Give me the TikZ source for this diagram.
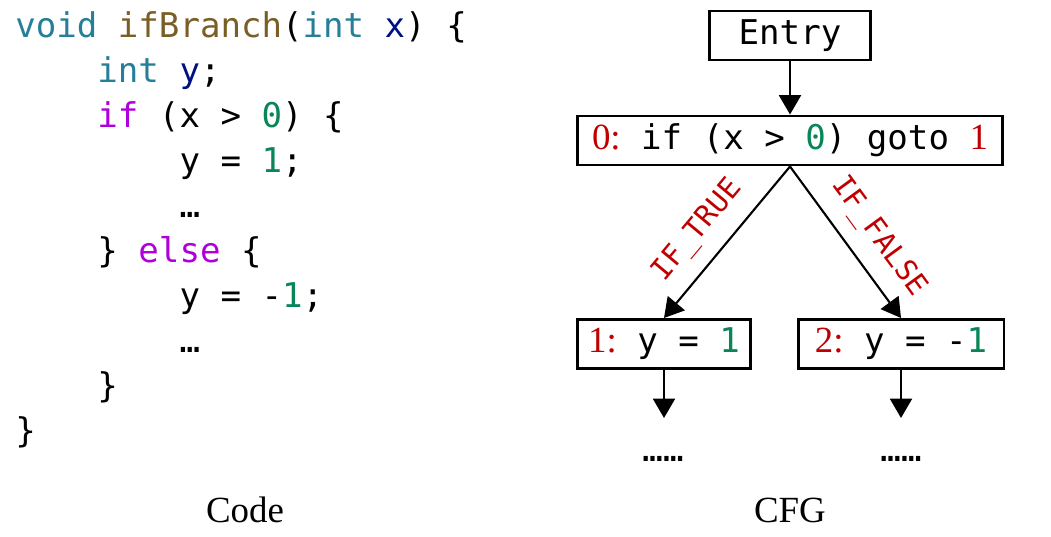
\documentclass[tikz,border=0pt]{standalone}
\usepackage{fontspec}
\setmainfont{Liberation Serif}
\setmonofont{DejaVu Sans Mono}
\usepackage{tikz}
\usetikzlibrary{arrows.meta,positioning}
\usepackage{xcolor}
\definecolor{ctype}{HTML}{267F99}
\definecolor{cfunc}{HTML}{795E26}
\definecolor{cvari}{HTML}{001080}
\definecolor{ckeyw}{HTML}{AF00DB}
\definecolor{cnumb}{HTML}{098658}
\definecolor{cred}{HTML}{C00000}
\newcommand{\codety}[1]{\textcolor{ctype}{#1}}
\newcommand{\codefn}[1]{\textcolor{cfunc}{#1}}
\newcommand{\codevar}[1]{\textcolor{cvari}{#1}}
\newcommand{\codekw}[1]{\textcolor{ckeyw}{#1}}
\newcommand{\codenum}[1]{\textcolor{cnumb}{#1}}
\newcommand{\stmtno}[1]{{\rmfamily\fontsize{21}{25}\selectfont\textcolor{cred}{#1}}}
\newcommand{\indt}{\hphantom{xxxx}}
\tikzset{
	code/.style={align=left,inner sep=0pt,font=\ttfamily\fontsize{19.4}{25.6}\selectfont},
	blk/.style={draw,line width=1.7pt,minimum height=0.98cm,inner xsep=0pt,font=\ttfamily\fontsize{19.4}{25.6}\selectfont},
	arr/.style={-{Triangle[length=11pt,width=12.5pt]},line width=1.2pt},
	lbl/.style={sloped,above=5pt,text=cred,font=\ttfamily\fontsize{16.5}{20}\selectfont},
	captxt/.style={anchor=base,font=\rmfamily\fontsize{21}{25}\selectfont}
}
\begin{document}
\begin{tikzpicture}[x=0.02cm,y=-0.02cm]
	\useasboundingbox (0,0) rectangle (1051,537);
	% source code
	\node[code,anchor=base west] (src) at (15,442) {\codety{void} \codefn{ifBranch}(\codety{int} \codevar{x}) \{\\
		\indt\codety{int} \codevar{y};\\
		\indt\codekw{if} (x > \codenum{0}) \{\\
		\indt\indt y = \codenum{1};\\
		\indt\indt …\\
		\indt\} \codekw{else} \{\\
		\indt\indt y = -\codenum{1};\\
		\indt\indt …\\
		\indt\}\\
		\}};
	% control flow graph
	\node[blk,minimum width=3.22cm] (en) at (790,35.5) {Entry};
	\node[blk,minimum width=8.5cm] (c0) at (790,140.5) {\stmtno{0:} if (x > \codenum{0}) goto \stmtno{1}};
	\node[blk,minimum width=3.46cm] (b1) at (664,344) {\stmtno{1:} y = \codenum{1}};
	\node[blk,minimum width=4.12cm] (b2) at (901,344) {\stmtno{2:} y = -\codenum{1}};
	\coordinate (e1) at (664,418);
	\coordinate (e2) at (901,418);
	\node[code,anchor=base] (d1) at (663,461) {……};
	\node[code,anchor=base] (d2) at (901,461) {……};
	\draw[arr] (en) -- (c0);
	\draw[arr] (c0.south) -- (b1.north) node[lbl,pos=0.55] {IF\_TRUE};
	\draw[arr] (c0.south) -- (b2.north) node[lbl,pos=0.58] {IF\_FALSE};
	\foreach \x/\y in {b1/e1,b2/e2}\draw[arr] (\x.south) -- (\y);
	% captions
	\node[captxt] (lc) at (245,522) {Code};
	\node[captxt] (rc) at (790,522) {CFG};
\end{tikzpicture}
\end{document}
